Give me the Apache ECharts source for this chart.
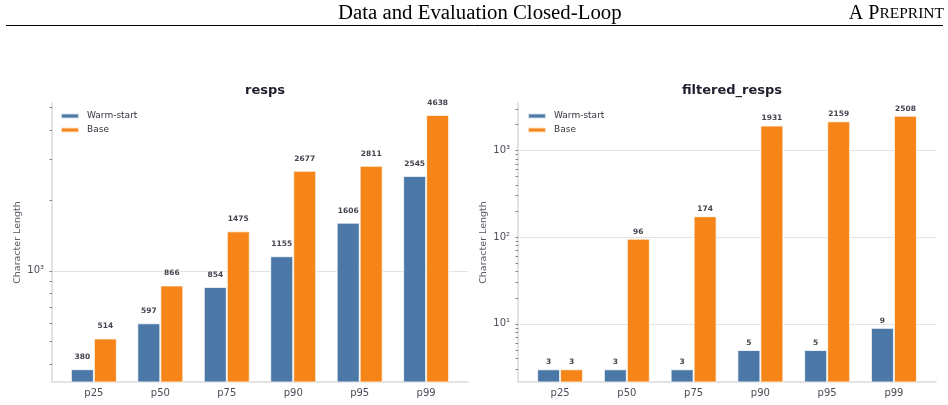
<!DOCTYPE html>
<html>
<head>
<meta charset="utf-8">
<script src="https://cdn.jsdelivr.net/npm/echarts@6/dist/echarts.min.js"></script>
<style>
  html, body { margin: 0; padding: 0; background: #fff; }
  #chart { width: 948px; height: 405px; }
</style>
</head>
<body>
<div id="chart"></div>
<script>
const categories = ['p25', 'p50', 'p75', 'p90', 'p95', 'p99'];
const warmResps = [380, 597, 854, 1155, 1606, 2545];
const baseResps = [514, 866, 1475, 2677, 2811, 4638];
const warmFiltered = [3, 3, 3, 5, 5, 9];
const baseFiltered = [3, 96, 174, 1931, 2159, 2508];

const leftMajor = [1000];
const leftMinor = [400, 500, 600, 700, 800, 900, 1000, 2000, 3000, 4000, 5000];
const rightMajor = [10, 100, 1000];
const rightMinor = [3, 4, 5, 6, 7, 8, 9, 10, 20, 30, 40, 50, 60, 70, 80, 90,
  100, 200, 300, 400, 500, 600, 700, 800, 900, 1000, 2000, 3000];

const BLUE = '#4c78a8';
const ORANGE = '#f58518';
const FONT = 'DejaVu Sans';
const SUP = { '0': '⁰', '1': '¹', '2': '²', '3': '³', '4': '⁴', '5': '⁵' };

const chart = echarts.init(document.getElementById('chart'));

const toPairs = arr => arr.map((v, i) => [i, v]);
const powLabel = v => '10' + String(Math.round(Math.log10(v))).split('').map(c => SUP[c]).join('');

function xAxisFor(gridIndex) {
  return {
    type: 'value',
    gridIndex,
    min: -0.63,
    max: 5.63,
    axisLine: { show: true, lineStyle: { color: '#d9d9d9', width: 1.5 } },
    axisTick: { show: false },
    splitLine: { show: false },
    axisLabel: {
      customValues: [0, 1, 2, 3, 4, 5],
      formatter: v => categories[Math.round(v)],
      color: '#4d4d5a',
      fontFamily: FONT,
      fontSize: 10,
      margin: 6,
    },
  };
}

// main log axis: labels, spine and grid lines
function yAxisFor(gridIndex, min, max, major) {
  return {
    type: 'log',
    logBase: 10,
    gridIndex,
    min,
    max,
    name: 'Character Length',
    nameLocation: 'middle',
    nameGap: 29,
    nameTextStyle: { color: '#5a5a66', fontFamily: FONT, fontSize: 9.5 },
    axisLine: { show: true, onZero: false, lineStyle: { color: '#d9d9d9', width: 1.5 } },
    axisTick: { show: false },
    axisLabel: {
      customValues: major,
      formatter: powLabel,
      color: '#4d4d5a',
      fontFamily: FONT,
      fontSize: 10,
      margin: 8,
    },
    splitLine: {
      show: true,
      showMinLine: false,
      showMaxLine: false,
      lineStyle: { color: '#e3e3e3', width: 1.2 },
    },
  };
}

// twin axis carrying only the small log ticks
function tickAxisFor(gridIndex, min, max, minor) {
  return {
    type: 'log',
    logBase: 10,
    gridIndex,
    min,
    max,
    position: 'left',
    axisLine: { show: false, onZero: false },
    axisTick: { show: true, customValues: minor, length: 2.5, lineStyle: { color: '#666', width: 0.8 } },
    axisLabel: { show: false },
    splitLine: { show: false },
  };
}

function barSeries(name, data, color, idx, labelGap) {
  return {
    name,
    type: 'bar',
    xAxisIndex: idx,
    yAxisIndex: idx,
    data: toPairs(data),
    barWidth: 23,
    barGap: '0%',
    itemStyle: { color, borderColor: 'rgba(255,255,255,0.75)', borderWidth: 1 },
    label: {
      show: true,
      position: 'top',
      distance: labelGap,
      formatter: p => p.value[1],
      color: '#44444f',
      fontFamily: FONT,
      fontWeight: 'bold',
      fontSize: 7.5,
    },
  };
}

function legendFor(left) {
  return {
    left,
    top: 111,
    padding: 0,
    orient: 'vertical',
    icon: 'rect',
    itemWidth: 18,
    itemHeight: 5,
    itemGap: 4,
    data: ['Warm-start', 'Base'],
    textStyle: { color: '#33333f', fontFamily: FONT, fontSize: 9, lineHeight: 10, padding: [0, 0, 0, 3] },
  };
}

const option = {
  animation: false,
  backgroundColor: '#fff',
  title: [
    { text: 'resps', left: 260, top: 79, textAlign: 'center',
      textStyle: { color: '#1f1f2e', fontFamily: FONT, fontWeight: 'bold', fontSize: 13 } },
    { text: 'filtered_resps', left: 727, top: 79, textAlign: 'center',
      textStyle: { color: '#1f1f2e', fontFamily: FONT, fontWeight: 'bold', fontSize: 13 } },
  ],
  legend: [legendFor(60), legendFor(527)],
  grid: [
    { left: 52, right: 480, top: 103, bottom: 23 },
    { left: 518, right: 12, top: 103, bottom: 23 },
  ],
  xAxis: [xAxisFor(0), xAxisFor(1)],
  yAxis: [
    yAxisFor(0, 335, 5213, leftMajor),
    yAxisFor(1, 2.14, 3512, rightMajor),
    tickAxisFor(0, 335, 5213, leftMinor),
    tickAxisFor(1, 2.14, 3512, rightMinor),
  ],
  series: [
    barSeries('Warm-start', warmResps, BLUE, 0, 8),
    barSeries('Base', baseResps, ORANGE, 0, 8),
    barSeries('Warm-start', warmFiltered, BLUE, 1, 3),
    barSeries('Base', baseFiltered, ORANGE, 1, 3),
  ],
  graphic: [
    { type: 'text', left: 338, top: 3,
      style: { text: 'Data and Evaluation Closed-Loop', fill: '#000',
        font: '20.8px "Liberation Serif"' } },
    { type: 'text', right: 4, top: 4,
      style: { text: '{a|A P}{b|REPRINT}', fill: '#000',
        rich: {
          a: { fontFamily: 'Liberation Serif', fontSize: 20, fill: '#000' },
          b: { fontFamily: 'Liberation Serif', fontSize: 15.5, fill: '#000' },
        } } },
    { type: 'line', shape: { x1: 6, y1: 25.5, x2: 943, y2: 25.5 },
      style: { stroke: '#000', lineWidth: 1 } },
  ],
};

chart.setOption(option);
</script>
</body>
</html>
